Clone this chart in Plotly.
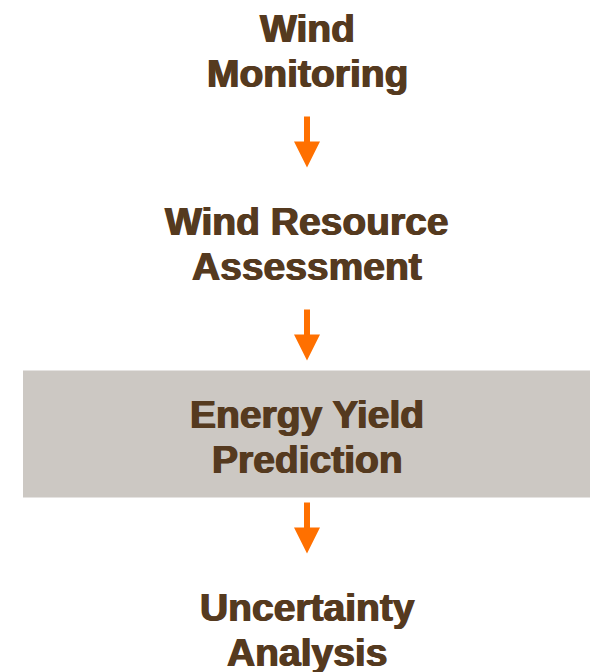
import plotly.graph_objects as go

# Pasos del flujo (de arriba a abajo)
steps = ["Wind<br>Monitoring", "Wind Resource<br>Assessment",
         "Energy Yield<br>Prediction", "Uncertainty<br>Analysis"]
highlight = [False, False, True, False]

W, H = 593, 672
cx = 307
step_y = [49.5 + 193 * i for i in range(len(steps))]

text_color = "#553A1F"
arrow_color = "#FF7000"
box_color = "#CCC8C3"

fig = go.Figure()

# cajas de resaltado
for y, hl in zip(step_y, highlight):
    if hl:
        fig.add_shape(type="rect", x0=23, x1=590, y0=y - 65, y1=y + 62,
                      fillcolor=box_color, line_width=0, layer="below")

# flechas entre pasos
for y in step_y[:-1]:
    top, mid, tip = y + 67, y + 92, y + 118
    fig.add_trace(go.Scatter(x=[cx, cx], y=[top, mid + 1], mode="lines",
                             line=dict(color=arrow_color, width=6),
                             hoverinfo="skip", showlegend=False))
    fig.add_trace(go.Scatter(x=[cx - 13, cx + 13, cx, cx - 13],
                             y=[mid, mid, tip, mid], mode="lines",
                             fill="toself", fillcolor=arrow_color,
                             line=dict(color=arrow_color, width=0),
                             hoverinfo="skip", showlegend=False))

# etiquetas, una anotación por línea (sombra leve para engrosar el trazo)
for y, s in zip(step_y, steps):
    lines = s.split("<br>")
    for j, ln in enumerate(lines):
        ly = y + (j - (len(lines) - 1) / 2) * 45
        fig.add_annotation(x=cx, y=ly + 1, text=ln, showarrow=False,
                           font=dict(family="Liberation Sans", size=39,
                                     color=text_color, weight="bold",
                                     shadow="0.7px 0 0 #553A1F, -0.7px 0 0 #553A1F"),
                           xanchor="center", yanchor="middle")

fig.update_xaxes(range=[0, W], visible=False, fixedrange=True)
fig.update_yaxes(range=[H, 0], visible=False, fixedrange=True)
fig.update_layout(width=W, height=H, margin=dict(l=0, r=0, t=0, b=0),
                  plot_bgcolor="white", paper_bgcolor="white")

fig.write_html("out.html", config={"displayModeBar": False},
               post_script="document.body.style.margin='0px';")
